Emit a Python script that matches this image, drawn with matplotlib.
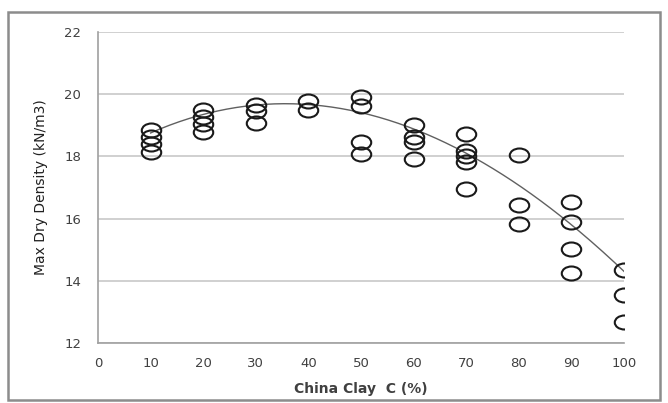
import numpy as np
import matplotlib
matplotlib.use("Agg")
import matplotlib.pyplot as plt
from matplotlib.path import Path
from matplotlib.transforms import Affine2D
from matplotlib.patches import Rectangle

# China clay content (%) and measured max dry density (kN/m3)
clay = [10, 10, 10, 10,
        20, 20, 20, 20,
        30, 30, 30,
        40, 40,
        50, 50, 50, 50,
        60, 60, 60, 60,
        70, 70, 70, 70, 70,
        80, 80, 80,
        90, 90, 90, 90,
        100, 100, 100]
density = [18.85, 18.62, 18.4, 18.14,
           19.5, 19.28, 19.04, 18.78,
           19.65, 19.45, 19.08,
           19.78, 19.48,
           19.9, 19.62, 18.45, 18.08,
           19.0, 18.62, 18.45, 17.92,
           18.72, 18.18, 18.0, 17.82, 16.95,
           18.05, 16.44, 15.82,
           16.53, 15.9, 15.03, 14.25,
           14.35, 13.55, 12.68]

# trendline values at each clay content
trend_clay = [10, 20, 30, 40, 50, 60, 70, 80, 90, 100]
trend_density = [18.78, 19.33, 19.6, 19.66, 19.47, 18.93, 18.1, 16.95, 15.87, 14.3]

x_ticks = [0, 10, 20, 30, 40, 50, 60, 70, 80, 90, 100]
y_ticks = [12, 14, 16, 18, 20, 22]

text_color = "#404040"
grid_color = "#c8c8c8"

# slightly flattened circle marker
ellipse = Path.unit_circle().transformed(Affine2D().scale(1.0, 0.72))

fig = plt.figure(figsize=(6.68, 4.03), dpi=100)
ax = fig.add_axes([98 / 668, 60 / 403, 526 / 668, 311 / 403])

# chart frame
fig.patches.append(Rectangle((8 / 668, 3 / 403), 652 / 668, 388 / 403,
                             transform=fig.transFigure, fill=False,
                             edgecolor="#8c8c8c", linewidth=1.8))

# smooth polynomial trendline
coef = np.polyfit(trend_clay, trend_density, 3)
xs = np.linspace(min(trend_clay), max(trend_clay), 200)
ax.plot(xs, np.polyval(coef, xs), color="#606060", linewidth=1.0, zorder=2)

ax.plot(clay, density, linestyle="none", marker=ellipse, markersize=14,
        markerfacecolor="none", markeredgecolor="#1a1a1a",
        markeredgewidth=1.5, zorder=3)

ax.set_xlim(0, 100)
ax.set_ylim(12, 22)
ax.set_xticks(x_ticks)
ax.set_yticks(y_ticks)
ax.tick_params(axis="both", length=0, labelsize=9.5, colors=text_color, pad=12)
ax.tick_params(axis="x", pad=10)

ax.grid(axis="y", color=grid_color, linewidth=1.2)
ax.set_axisbelow(True)
for side in ["top", "right"]:
    ax.spines[side].set_visible(False)
for side in ["left", "bottom"]:
    ax.spines[side].set_color("#a0a0a0")
    ax.spines[side].set_linewidth(1.2)

ax.set_xlabel("China Clay  C (%)", fontsize=10, fontweight="bold",
              color=text_color, labelpad=9)
ax.set_ylabel("Max Dry Density (kN/m3)", fontsize=10, color="#202020",
              labelpad=12, family=["DejaVu Sans Condensed", "DejaVu Sans"])

fig.savefig("out.png", dpi=100)
